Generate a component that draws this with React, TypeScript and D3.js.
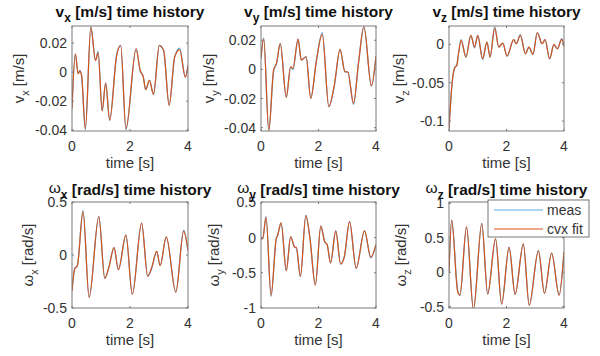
import React from 'react';
import * as d3 from 'd3';

// ---- data (time [s], value) ----
const vxT = [0, 0.116, 0.21, 0.27, 0.33, 0.46, 0.65, 0.81, 0.9, 1.04, 1.16, 1.3, 1.54, 1.68, 1.86, 2.21, 2.35, 2.46, 2.54, 2.67, 2.81, 3.01, 3.16, 3.35, 3.54, 3.71, 3.91, 4.0];
const vxFit = [-0.025, 0.0126, -0.0011, 0.0007, -0.0023, -0.0389, 0.0309, 0.008, 0.0133, -0.0267, -0.0075, -0.0331, 0.0114, 0.0183, -0.0389, 0.016, 0.0011, -0.0034, -0.0121, -0.0057, -0.0153, 0.0183, 0.0149, -0.0229, 0.0103, 0.0155, -0.0034, 0.0046];
const vxMeas = [-0.025, 0.0126, -0.0011, 0.0012, -0.0023, -0.0398, 0.0309, 0.008, 0.0142, -0.0267, -0.0075, -0.0331, 0.0122, 0.0183, -0.0397, 0.016, 0.0011, -0.0034, -0.0121, -0.0057, -0.0153, 0.0183, 0.0149, -0.0229, 0.0103, 0.0165, -0.0034, 0.0046];

const vyT = [0, 0.094, 0.27, 0.44, 0.54, 0.67, 0.88, 1.03, 1.11, 1.29, 1.4, 1.57, 1.73, 1.93, 2.13, 2.36, 2.55, 2.75, 2.92, 3.02, 3.22, 3.39, 3.58, 3.84, 4.0];
const vyFit = [0.0075, 0.0208, -0.042, 0.0, 0.0041, 0.0178, -0.0192, 0.0018, 0.0007, 0.0208, 0.0064, 0.0087, -0.0199, 0.0064, 0.0242, -0.0256, -0.0107, 0.0137, -0.0016, -0.0018, -0.0233, 0.0041, 0.0293, -0.0114, 0.0091];
const vyMeas = [0.0075, 0.0218, -0.042, -0.0012, 0.0041, 0.0178, -0.0192, 0.0018, -0.0002, 0.0208, 0.0064, 0.0087, -0.0199, 0.0064, 0.0252, -0.0256, -0.0115, 0.0137, -0.0016, -0.0018, -0.024, 0.0041, 0.0293, -0.0114, 0.0091];

const vzT = [0, 0.117, 0.21, 0.27, 0.33, 0.42, 0.59, 0.76, 0.89, 1.0, 1.17, 1.32, 1.43, 1.59, 1.73, 1.87, 2.02, 2.25, 2.34, 2.48, 2.66, 2.78, 2.92, 3.07, 3.24, 3.34, 3.5, 3.65, 3.77, 3.92, 4.0];
const vzFit = [-0.11, -0.047, -0.0296, -0.0274, -0.0122, 0.0052, -0.0165, 0.0117, -0.0035, 0.0117, -0.0187, 0.003, -0.0165, 0.0217, -0.0035, 0.0017, -0.0152, 0.0061, 0.0009, 0.0117, -0.0122, -0.0035, -0.013, 0.0152, 0.0009, 0.0061, -0.0187, 0.0, -0.0057, 0.0065, -0.0026];
const vzMeas = [-0.11, -0.047, -0.0296, -0.0274, -0.0122, 0.0062, -0.0165, 0.0117, -0.0045, 0.0117, -0.0197, 0.003, -0.0165, 0.0227, -0.0035, 0.0017, -0.0152, 0.0061, 0.0009, 0.0127, -0.0122, -0.0035, -0.013, 0.0152, 0.0009, 0.0061, -0.0187, 0.0, -0.0057, 0.0075, -0.0026];

const wxT = [0, 0.09, 0.185, 0.38, 0.59, 0.925, 1.13, 1.27, 1.45, 1.6, 1.86, 2.08, 2.4, 2.61, 2.75, 2.92, 3.04, 3.25, 3.58, 3.85, 4.0];
const wxFit = [-0.34, -0.133, -0.1, 0.41, -0.4, 0.363, -0.22, -0.117, 0.069, -0.139, 0.187, -0.37, 0.3, -0.2, -0.117, 0.034, -0.1, 0.171, -0.35, 0.225, 0.043];
const wxMeas = [-0.34, -0.133, -0.1, 0.42, -0.4, 0.363, -0.22, -0.117, 0.069, -0.139, 0.187, -0.37, 0.3, -0.2, -0.125, 0.034, -0.1, 0.171, -0.35, 0.235, 0.043];

const wyT = [0, 0.06, 0.175, 0.35, 0.53, 0.58, 0.7, 0.88, 1.03, 1.17, 1.23, 1.37, 1.56, 1.7, 1.89, 2.08, 2.22, 2.3, 2.42, 2.6, 2.77, 2.9, 3.08, 3.31, 3.6, 3.82, 4.0];
const wyFit = [-0.014, -0.014, 0.288, -0.82, -0.014, 0.034, 0.21, -0.47, 0.01, -0.135, -0.14, -0.553, 0.313, 0.0, -0.673, 0.163, -0.0625, -0.1, -0.36, 0.091, -0.375, -0.27, 0.226, -0.437, 0.096, -0.279, -0.096];
const wyMeas = [-0.02, -0.014, 0.3, -0.835, -0.014, 0.034, 0.21, -0.47, 0.01, -0.135, -0.15, -0.553, 0.313, 0.0, -0.673, 0.163, -0.0625, -0.1, -0.36, 0.1, -0.375, -0.27, 0.226, -0.437, 0.096, -0.29, -0.096];

const wzT = [0, 0.093, 0.3, 0.38, 0.61, 0.85, 1.14, 1.345, 1.62, 1.83, 2.09, 2.3, 2.585, 2.79, 3.11, 3.32, 3.57, 3.83, 4.0];
const wzFit = [-0.01, 0.757, -0.28, -0.33, 0.66, -0.545, 0.708, -0.317, 0.485, -0.465, 0.361, -0.322, 0.411, -0.48, 0.312, -0.307, 0.277, -0.332, 0.297];
const wzMeas = [-0.01, 0.757, -0.26, -0.34, 0.66, -0.545, 0.708, -0.317, 0.485, -0.465, 0.361, -0.322, 0.411, -0.48, 0.312, -0.307, 0.277, -0.332, 0.297];

const xTicks = [0, 2, 4];
const vxTicks = [-0.04, -0.02, 0, 0.02];
const vyTicks = [-0.04, -0.02, 0, 0.02];
const vzTicks = [-0.1, -0.05, 0];
const wxTicks = [-0.5, 0, 0.5];
const wyTicks = [-1, -0.5, 0, 0.5];
const wzTicks = [-0.5, 0, 0.5, 1];

const legendLabels = ['meas', 'cvx fit'];

const MEAS = '#5aaee6';
const FIT = '#d95319';
const TXT = '#333333';
const FONT = '"Liberation Sans", Arial, Helvetica, sans-serif';

interface PanelProps {
  id: string;
  sym: string;
  sub: string;
  unit: string;
  t: number[];
  fit: number[];
  meas: number[];
  domain: [number, number];
  yTicks: number[];
  box: [number, number, number, number]; // left, right, top, bottom
  titleY: number;
  ylabX: number;
}

const fmt = (v: number) => (v === 0 ? '0' : String(v));

const Panel: React.FC<PanelProps> = ({ id, sym, sub, unit, t, fit, meas, domain, yTicks, box, titleY, ylabX }) => {
  const [l, r, top, bot] = box;
  const x = d3.scaleLinear().domain([0, 4]).range([l, r]);
  const y = d3.scaleLinear().domain(domain).range([bot, top]);
  const line = d3
    .line<number>()
    .x((_, i) => x(t[i]))
    .y((d) => y(d))
    .curve(d3.curveMonotoneX);
  const isOmega = sym === 'ω';
  const cx = (l + r) / 2;
  const cy = (top + bot) / 2;
  return (
    <g fontFamily={FONT}>
      <defs>
        <clipPath id={`clip-${id}`}>
          <rect x={l} y={top} width={r - l} height={bot - top} />
        </clipPath>
      </defs>
      <rect x={l} y={top} width={r - l} height={bot - top} fill="#fff" />
      <g clipPath={`url(#clip-${id})`}>
        <path d={line(meas) || ''} fill="none" stroke={MEAS} strokeWidth={1.3} />
        <path d={line(fit) || ''} fill="none" stroke={FIT} strokeWidth={1.2} />
      </g>
      <rect x={l} y={top} width={r - l} height={bot - top} fill="none" stroke="#7a7a7a" strokeWidth={1} />
      {xTicks.map((v) => (
        <g key={`xt${v}`}>
          <line x1={x(v)} x2={x(v)} y1={bot} y2={bot - 2} stroke="#7a7a7a" />
          <line x1={x(v)} x2={x(v)} y1={top} y2={top + 2} stroke="#7a7a7a" />
          <text x={x(v)} y={bot + 20} fontSize={14} fill={TXT} textAnchor="middle">
            {v}
          </text>
        </g>
      ))}
      {yTicks.map((v) => (
        <g key={`yt${v}`}>
          <line x1={l} x2={l + 2} y1={y(v)} y2={y(v)} stroke="#7a7a7a" />
          <line x1={r} x2={r - 2} y1={y(v)} y2={y(v)} stroke="#7a7a7a" />
          <text x={l - 5} y={y(v)} dy="0.36em" fontSize={14} fill={TXT} textAnchor="end">
            {fmt(v)}
          </text>
        </g>
      ))}
      <text x={cx} y={bot + 37} fontSize={15} fill={TXT} textAnchor="middle">
        time [s]
      </text>
      <text transform={`translate(${ylabX},${cy}) rotate(-90)`} fontSize={15} fill={TXT} textAnchor="middle">
        <tspan>{sym}</tspan>
        <tspan fontSize={11} dy={5}>{sub}</tspan>
        <tspan dy={-5}>{` ${unit}`}</tspan>
      </text>
      <text x={cx} y={titleY} fontSize={15.5} fontWeight="bold" fill="#111" textAnchor="middle">
        <tspan fontWeight={isOmega ? 'normal' : 'bold'} dy={isOmega ? -2 : 0}>{sym}</tspan>
        <tspan fontSize={12} dy={isOmega ? 6 : 5}>{sub}</tspan>
        <tspan dy={isOmega ? -4 : -5}>{` ${unit} time history`}</tspan>
      </text>
    </g>
  );
};

const App: React.FC = () => {
  const cols: [number, number][] = [
    [72, 188],
    [261, 376],
    [449, 564],
  ];
  const row0: [number, number] = [26, 131];
  const row1: [number, number] = [202, 308];
  const legX = 488;
  const legY = 200;
  return (
    <svg width={600} height={356} style={{ position: 'absolute', left: 0, top: 0, background: '#fff' }}>
      <rect width={600} height={356} fill="#fff" />
      <Panel id="vx" sym="v" sub="x" unit="[m/s]" t={vxT} fit={vxFit} meas={vxMeas} domain={[-0.0405, 0.0317]} yTicks={vxTicks} box={[...cols[0], ...row0]} titleY={17} ylabX={24} />
      <Panel id="vy" sym="v" sub="y" unit="[m/s]" t={vyT} fit={vyFit} meas={vyMeas} domain={[-0.0423, 0.0298]} yTicks={vyTicks} box={[...cols[1], ...row0]} titleY={17} ylabX={214} />
      <Panel id="vz" sym="v" sub="z" unit="[m/s]" t={vzT} fit={vzFit} meas={vzMeas} domain={[-0.113, 0.024]} yTicks={vzTicks} box={[...cols[2], ...row0]} titleY={17} ylabX={404} />
      <Panel id="wx" sym="ω" sub="x" unit="[rad/s]" t={wxT} fit={wxFit} meas={wxMeas} domain={[-0.5, 0.5]} yTicks={wxTicks} box={[...cols[0], ...row1]} titleY={195} ylabX={33} />
      <Panel id="wy" sym="ω" sub="y" unit="[rad/s]" t={wyT} fit={wyFit} meas={wyMeas} domain={[-1, 0.505]} yTicks={wyTicks} box={[...cols[1], ...row1]} titleY={195} ylabX={219} />
      <Panel id="wz" sym="ω" sub="z" unit="[rad/s]" t={wzT} fit={wzFit} meas={wzMeas} domain={[-0.52, 1.02]} yTicks={wzTicks} box={[...cols[2], ...row1]} titleY={195} ylabX={406} />
      <g fontFamily={FONT}>
        <rect x={legX} y={legY} width={101} height={37} fill="#fff" stroke="#555" strokeWidth={0.8} />
        {legendLabels.map((lab, i) => (
          <g key={lab}>
            <line x1={legX + 6} x2={legX + 55} y1={legY + 10 + i * 19} y2={legY + 10 + i * 19} stroke={i === 0 ? MEAS : FIT} strokeWidth={1.2} />
            <text x={legX + 59} y={legY + 10 + i * 19} dy="0.36em" fontSize={14} fill={TXT}>
              {lab}
            </text>
          </g>
        ))}
      </g>
    </svg>
  );
};

export default App;
